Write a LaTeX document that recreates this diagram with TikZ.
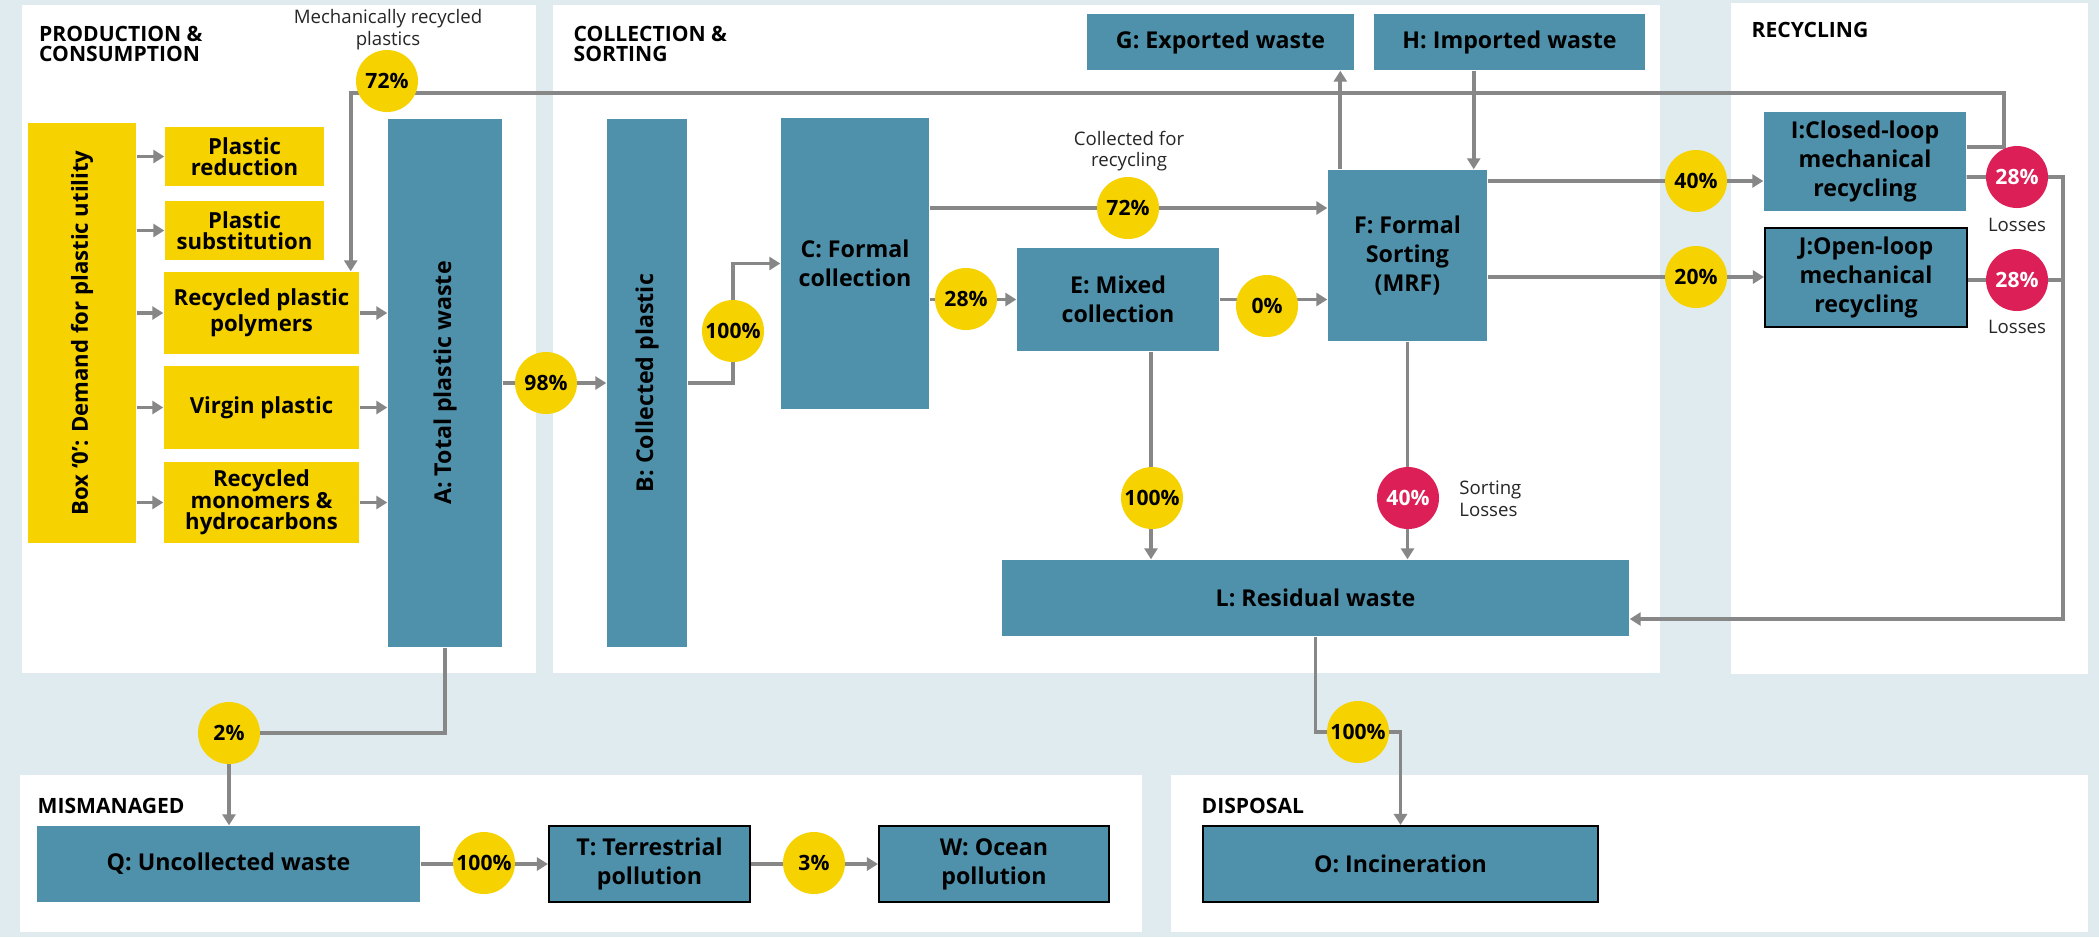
\documentclass[tikz,border=0pt]{standalone}
\usepackage{fontspec}
\setmainfont{Open Sans}
\usepackage{graphicx}
\usetikzlibrary{arrows.meta,calc}

\definecolor{bgblue}{HTML}{E0EBF0}
\definecolor{boxteal}{HTML}{4F91AB}
\definecolor{flowyellow}{HTML}{F6D200}
\definecolor{lossred}{HTML}{DC1F56}
\definecolor{wiregray}{HTML}{878787}

\pgfdeclarelayer{panel}
\pgfdeclarelayer{wire}
\pgfsetlayers{panel,wire,main}

\begin{document}
\begin{tikzpicture}[
    stage/.style={fill=boxteal, inner sep=0pt, align=center,
                  font=\bfseries\fontsize{6.6}{8.2}\selectfont},
    lever/.style={fill=flowyellow, inner sep=0pt, align=center,
                  font=\bfseries\fontsize{6.3}{6.1}\selectfont},
    framed/.style={draw=black, line width=0.6pt},
    share/.style={circle, fill=flowyellow, minimum size=6.2mm, inner sep=0pt,
                  font=\bfseries\fontsize{6}{7}\selectfont},
    loss/.style={share, fill=lossred, text=white},
    flow/.style={draw=wiregray, line width=1.1pt},
    arrow/.style={flow, -{Triangle[length=1.1mm,width=1.3mm]}},
    note/.style={font=\fontsize{5.3}{6.2}\selectfont, align=center, text=black!85},
    section/.style={font=\bfseries\fontsize{6}{5.9}\selectfont, align=left,
                    anchor=north west, inner sep=0pt}
]
\useasboundingbox (0,0) rectangle (20.99,-9.37);

\begin{pgfonlayer}{panel}
\fill[bgblue] (0,0) rectangle (20.99,-9.37);
\fill[white] (0.22,-0.05) rectangle (5.36,-6.73);
\fill[white] (5.53,-0.05) rectangle (16.60,-6.73);
\fill[white] (17.31,-0.03) rectangle (20.88,-6.74);
\fill[white] (0.20,-7.75) rectangle (11.42,-9.32);
\fill[white] (11.71,-7.75) rectangle (20.88,-9.32);
\end{pgfonlayer}

\node[section] (prodtitle) at (0.385,-0.25) {PRODUCTION \&\\CONSUMPTION};
\node[section] (colltitle) at (5.73,-0.25) {COLLECTION \&\\SORTING};
\node[section] (recytitle) at (17.51,-0.22) {RECYCLING};
\node[section] (mistitle) at (0.37,-7.98) {MISMANAGED};
\node[section] (disptitle) at (12.01,-7.97) {DISPOSAL};

\node[lever, minimum width=10.8mm, minimum height=42mm] (box0) at (0.82,-3.33)
    {\rotatebox{90}{Box `0': Demand for plastic utility}};
\node[lever, minimum width=15.9mm, minimum height=5.9mm] (reduce) at (2.445,-1.565)
    {Plastic\\reduction};
\node[lever, minimum width=15.9mm, minimum height=5.9mm] (subst) at (2.445,-2.305)
    {Plastic\\substitution};
\node[lever, minimum width=19.5mm, minimum height=8.2mm] (polym) at (2.615,-3.13)
    {Recycled plastic\\polymers};
\node[lever, minimum width=19.5mm, minimum height=8.3mm] (virgin) at (2.615,-4.075)
    {Virgin plastic};
\node[lever, minimum width=19.5mm, minimum height=8.1mm] (monom) at (2.615,-5.025)
    {Recycled\\monomers \&\\hydrocarbons};

\node[stage, minimum width=11.4mm, minimum height=52.8mm] (A) at (4.45,-3.83)
    {\rotatebox{90}{A: Total plastic waste}};
\node[stage, minimum width=8mm, minimum height=52.8mm] (B) at (6.47,-3.83)
    {\rotatebox{90}{B: Collected plastic}};
\node[stage, minimum width=14.8mm, minimum height=29.1mm] (C) at (8.55,-2.635)
    {C: Formal\\collection};
\node[stage, minimum width=20.2mm, minimum height=10.3mm] (E) at (11.18,-2.995)
    {E: Mixed\\collection};
\node[stage, minimum width=15.9mm, minimum height=17.1mm] (F) at (14.075,-2.555)
    {F: Formal\\Sorting\\(MRF)};
\node[stage, minimum width=26.7mm, minimum height=5.6mm] (G) at (12.205,-0.42)
    {G: Exported waste};
\node[stage, minimum width=27.1mm, minimum height=5.6mm] (H) at (15.095,-0.42)
    {H: Imported waste};
\node[stage, minimum width=20.2mm, minimum height=9.9mm] (I) at (18.65,-1.615)
    {I:Closed-loop\\mechanical\\recycling};
\node[stage, framed, minimum width=20.2mm, minimum height=9.9mm] (J) at (18.66,-2.775)
    {J:Open-loop\\mechanical\\recycling};
\node[stage, minimum width=62.7mm, minimum height=7.6mm] (L) at (13.155,-5.98)
    {L: Residual waste};
\node[stage, minimum width=38.3mm, minimum height=7.6mm] (Q) at (2.285,-8.64)
    {Q: Uncollected waste};
\node[stage, framed, minimum width=20.1mm, minimum height=7.6mm] (T) at (6.495,-8.64)
    {T: Terrestrial\\pollution};
\node[stage, framed, minimum width=23mm, minimum height=7.6mm] (W) at (9.94,-8.64)
    {W: Ocean\\pollution};
\node[stage, framed, minimum width=39.5mm, minimum height=7.6mm] (O) at (14.005,-8.64)
    {O: Incineration};

\node[share] (c72top) at (3.87,-0.81) {72\%};
\node[share] (c98) at (5.46,-3.83) {98\%};
\node[share] (c100b) at (7.33,-3.31) {100\%};
\node[share] (c28) at (9.66,-2.99) {28\%};
\node[share] (c72mid) at (11.28,-2.08) {72\%};
\node[share] (c0) at (12.67,-3.06) {0\%};
\node[share] (c40) at (16.96,-1.81) {40\%};
\node[share] (c20) at (16.96,-2.77) {20\%};
\node[loss] (loss1) at (20.17,-1.77) {28\%};
\node[loss] (loss2) at (20.17,-2.80) {28\%};
\node[share] (c100e) at (11.52,-4.98) {100\%};
\node[loss] (loss40) at (14.08,-4.98) {40\%};
\node[share] (c2) at (2.29,-7.33) {2\%};
\node[share] (c100q) at (4.84,-8.63) {100\%};
\node[share] (c3) at (8.14,-8.63) {3\%};
\node[share] (c100l) at (13.58,-7.32) {100\%};

\node[note] (mechlbl) at (3.88,-0.30) {Mechanically recycled\\plastics};
\node[note] (colllbl) at (11.29,-1.51) {Collected for\\recycling};
\node[note] (losslbl1) at (20.17,-2.25) {Losses};
\node[note] (losslbl2) at (20.17,-3.27) {Losses};
\node[note, anchor=west, align=left] (sortlbl) at (14.47,-4.99) {Sorting\\Losses};

\coordinate (mechturn) at (20.04,-0.93);
\coordinate (lossturn) at (20.63,-6.19);

\begin{pgfonlayer}{wire}
\foreach \t in {reduce,subst,polym,virgin,monom}
    \draw[arrow] (box0.east |- \t.west) -- (\t.west);
\foreach \t in {polym,virgin,monom}
    \draw[arrow] (\t.east) -- (\t.east -| A.west);
\draw[arrow] (A.east) -- (B.west);
\draw[arrow] (B.east) -| (c100b.center) |- (C.west);
\draw[arrow] (C.east |- E.west) -- (E.west);
\draw[arrow] (C.east |- c72mid) -- (F.west |- c72mid);
\draw[arrow] (E.east) -- (E.east -| F.west);
\draw[arrow] ([xshift=1.3mm]F.north west) -- ([xshift=1.3mm]F.north west |- G.south);
\draw[arrow] ([xshift=-1.4mm]F.north east |- H.south) -- ([xshift=-1.4mm]F.north east);
\draw[arrow] (F.east |- c40) -- (I.west |- c40);
\draw[arrow] (F.east |- c20) -- (J.west |- c20);
\draw[arrow] ([yshift=1.45mm]I.east) -| (mechturn) -| ([xshift=-0.9mm]polym.north east);
\draw[arrow] (I.east |- loss1) -| (lossturn) -- ([yshift=-2.1mm]L.east);
\draw[flow] (J.east |- loss2) -- (loss2 -| lossturn);
\draw[arrow] ([xshift=3.3mm]E.south) -- ([xshift=3.3mm]E.south |- L.north);
\draw[arrow] (F.south) -- (F.south |- L.north);
\draw[arrow] (A.south) |- (c2.center) -- (c2.center |- Q.north);
\draw[arrow] (Q.east) -- (T.west);
\draw[arrow] (T.east) -- (W.west);
\draw[arrow] (L.south) |- (c100l.center) -| (O.north);
\end{pgfonlayer}

\end{tikzpicture}
\end{document}
